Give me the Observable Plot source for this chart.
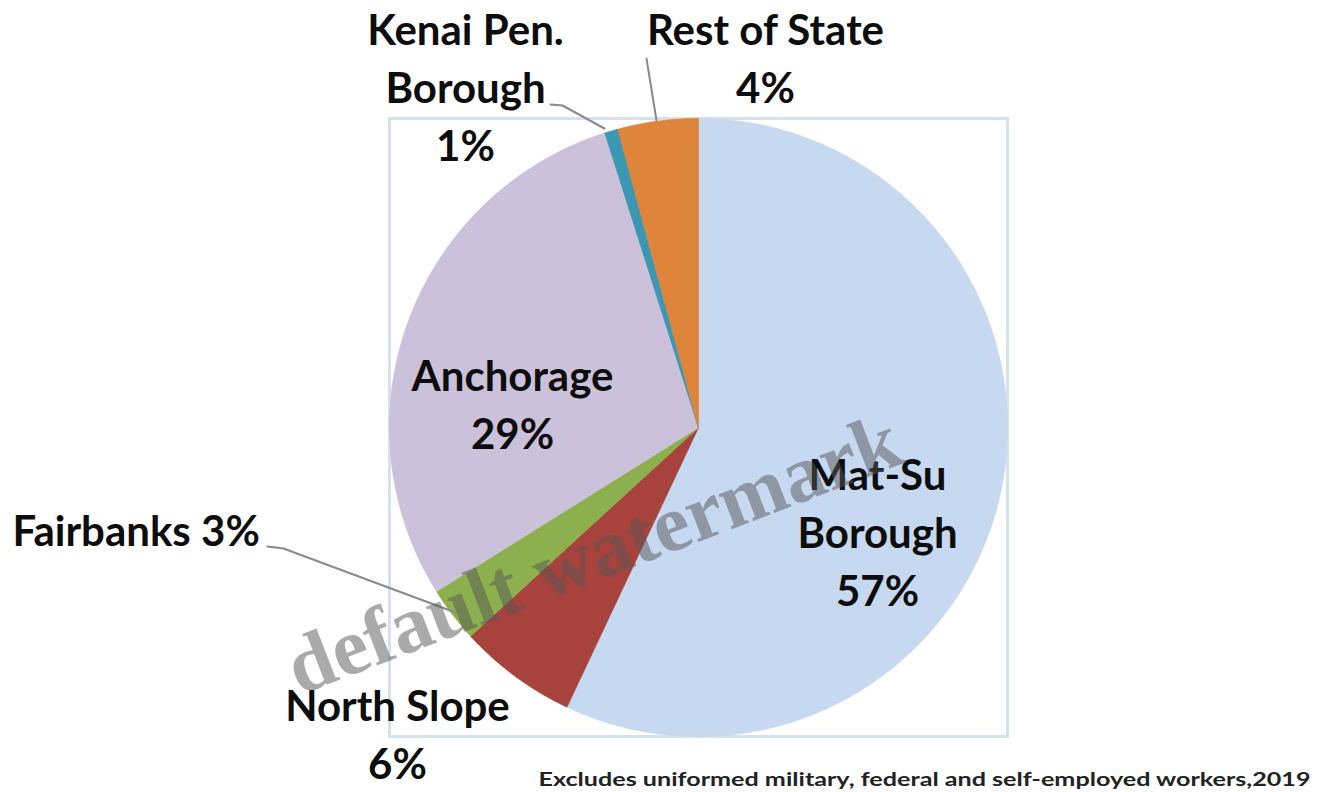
<!DOCTYPE html>
<html><head><meta charset="utf-8">
<script src="https://cdn.jsdelivr.net/npm/d3@7"></script>
<script src="https://cdn.jsdelivr.net/npm/@observablehq/plot@0.6"></script>
<style>html,body{margin:0;padding:0;background:#fff;} #chart svg{display:block;}</style>
</head><body><div id="chart"></div>
<script>
// ---- data ----
const regions = ["Mat-Su Borough", "North Slope", "Fairbanks", "Anchorage", "Kenai Pen. Borough", "Rest of State"];
const shares = [57.0, 6.2, 2.9, 29.0, 0.7, 4.2];
const labelLines = [["Mat-Su", "Borough", "57%"], ["North Slope", "6%"], ["Fairbanks 3%"], ["Anchorage", "29%"], ["Kenai Pen.", "Borough", "1%"], ["Rest of State", "4%"]];
const sliceColors = ["#c6d9f0", "#a8423d", "#8cb04d", "#cbc1da", "#3c97b3", "#de853b"];
const caption = "Excludes uniformed military, federal and self-employed workers,2019";
const watermark = "default watermark";

// ---- layout ----
const W = 1324, H = 792, CX = 698, CY = 427, R = 309;
const toU = px => (px - CX) / R, toV = py => (CY - py) / R;
// last-line baseline positions of labels (pixels) and anchors
const labelLayout = [
  {px: 877, py: 605, anchor: "middle"},
  {px: 397, py: 778, anchor: "middle"},
  {px: 12, py: 545, anchor: "start"},
  {px: 512, py: 448, anchor: "middle"},
  {px: 465, py: 160, anchor: "middle"},
  {px: 765, py: 102, anchor: "middle"}
];
const leaderLayout = [
  {name: "Fairbanks", pts: [[267, 546], [283, 548], [455, 612]]},
  {name: "Kenai Pen. Borough", pts: [[550, 104], [562, 105], [604, 128]]},
  {name: "Rest of State", pts: [[646, 58], [656, 120]]}
];

// ---- build slice polygons from the data ----
const table = regions.map((name, i) => ({name, share: shares[i]}));
const arcs = d3.pie().sort(null).value(d => d.share)(table);
const sliceRows = [];
arcs.forEach(a => {
  const name = a.data.name;
  sliceRows.push({name, u: 0, v: 0});
  const n = Math.max(2, Math.ceil((a.endAngle - a.startAngle) / (Math.PI / 360)));
  for (let k = 0; k <= n; k++) {
    const t = a.startAngle + (a.endAngle - a.startAngle) * k / n;
    sliceRows.push({name, u: Math.sin(t), v: Math.cos(t)});
  }
  sliceRows.push({name, u: 0, v: 0});
});

const labelRows = labelLines.map((lines, i) => ({
  text: lines.join("\n"), u: toU(labelLayout[i].px), v: toV(labelLayout[i].py), anchor: labelLayout[i].anchor
}));
const leaderRows = leaderLayout.flatMap(l => l.pts.map(([px, py]) => ({name: l.name, u: toU(px), v: toV(py)})));

const font = "Lato, 'Open Sans', sans-serif";
const textMarks = ["middle", "start"].map(anchor => Plot.text(labelRows.filter(d => d.anchor === anchor), {
  x: "u", y: "v", text: "text", textAnchor: anchor, lineAnchor: "bottom",
  fontSize: 42, lineHeight: 58 / 42, fontWeight: "bold", fontFamily: font, fill: "#0d0d0d"
}));

const chart = Plot.plot({
  width: W, height: H,
  marginLeft: CX - R, marginRight: W - (CX + R), marginTop: CY - R, marginBottom: H - (CY + R),
  x: {domain: [-1, 1], axis: null},
  y: {domain: [-1, 1], axis: null},
  color: {type: "ordinal", domain: regions, range: sliceColors},
  style: {background: "#fff"},
  marks: [
    Plot.frame({stroke: "#d7e1ea", strokeWidth: 3}),
    Plot.line(sliceRows, {x: "u", y: "v", z: "name", fill: "name", stroke: "name", strokeWidth: 0.8, curve: "linear"}),
    Plot.line(leaderRows, {x: "u", y: "v", z: "name", stroke: "#8a8a8a", strokeWidth: 2}),
    ...textMarks,
    Plot.text([caption], {x: toU(1310), y: toV(785), text: d => d, textAnchor: "end", lineAnchor: "bottom",
      fontSize: 19, fontWeight: "bold", fontFamily: font, fill: "#222", className: "caption"}),
    Plot.text([watermark], {x: toU(593), y: toV(554), text: d => d, rotate: -21,
      fontSize: 81, fontWeight: "bold", fontFamily: "'Liberation Serif', serif", fill: "#555", fillOpacity: 0.5})
  ]
});
d3.select(chart).selectAll("g.caption text").attr("textLength", 772).attr("lengthAdjust", "spacingAndGlyphs");
document.getElementById("chart").appendChild(chart);
</script>
</body></html>
